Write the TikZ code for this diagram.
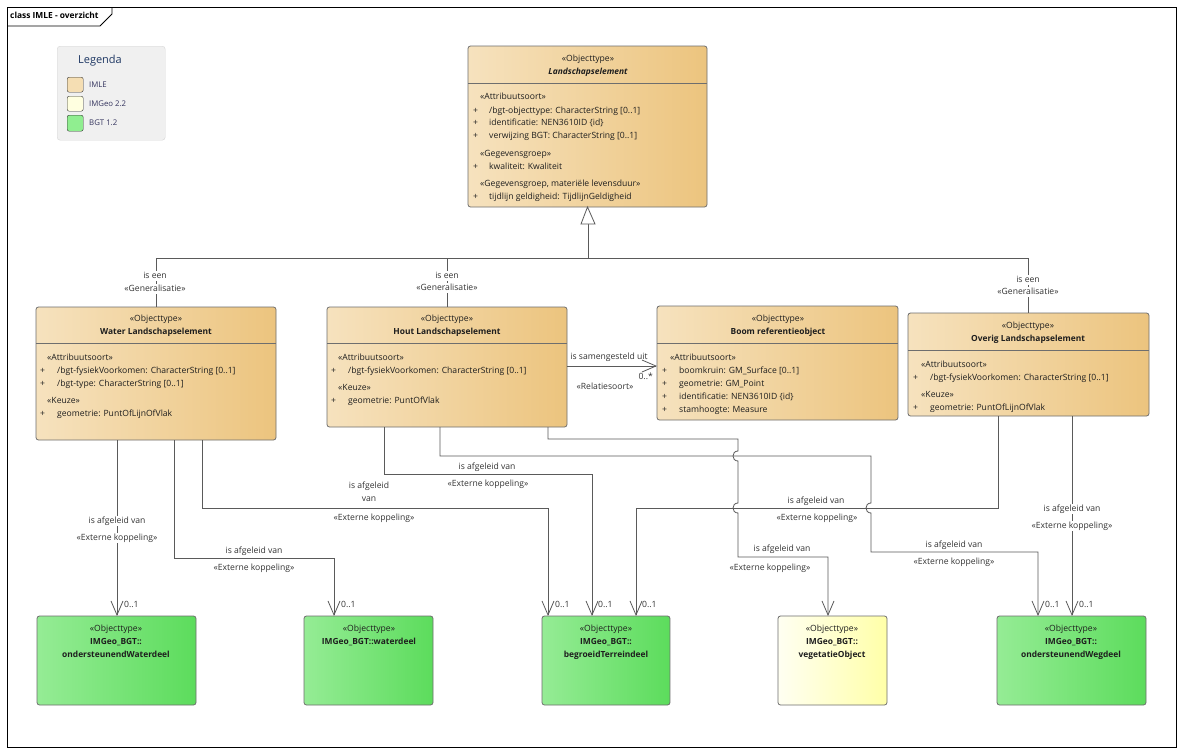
\documentclass[tikz,border=0pt]{standalone}
\usepackage{fontspec}
\setmainfont{Open Sans}
\usetikzlibrary{arrows.meta}
\definecolor{wheatL}{HTML}{F6E2BE}
\definecolor{wheatR}{HTML}{ECC47E}
\definecolor{greenL}{HTML}{95EC95}
\definecolor{greenR}{HTML}{5CDC5C}
\definecolor{yelL}{HTML}{FFFFF2}
\definecolor{yelR}{HTML}{FFFFA8}
\definecolor{boxline}{HTML}{6E6E6E}
\definecolor{connc}{HTML}{5A5A5A}
\definecolor{txt}{HTML}{1E1E1E}
\definecolor{lbl}{HTML}{333333}
\definecolor{legbg}{HTML}{F0F0F0}
\definecolor{legline}{HTML}{D6D6D6}
\definecolor{legtitle}{HTML}{1F3864}
\definecolor{legtxt}{HTML}{34345E}
\definecolor{swIMLE}{HTML}{F5DEB3}
\definecolor{swIMGeo}{HTML}{FFFFE0}
\definecolor{swBGT}{HTML}{90EE90}
\tikzset{
  clsbox/.style={draw=boxline, line width=0.8pt, rounded corners=2.5pt, inner sep=0pt, outer sep=0pt, anchor=north west},
  wheatbox/.style={clsbox, left color=wheatL, right color=wheatR},
  greenbox/.style={clsbox, left color=greenL, right color=greenR},
  yelbox/.style={clsbox, left color=yelL, right color=yelR},
  tx/.style={font=\fontsize{8.6}{10}\selectfont, inner sep=0pt, text height=6.2pt, text depth=1.8pt, text=txt},
  tw/.style={tx, anchor=west},
  tb/.style={tx, font=\fontsize{8.4}{10}\selectfont\bfseries},
  lb/.style={tx, text=lbl, fill=white, inner xsep=1pt, inner ysep=1pt},
  lbn/.style={tx, text=lbl},
  mult/.style={tx, text=lbl, anchor=west},
  conn/.style={draw=connc, line width=0.8pt},
  arr/.style={conn, -{Straight Barb[length=14pt, width=12pt, line width=0.8pt]}},
  sep/.style={draw=boxline, line width=0.8pt},
}
\begin{document}
\begin{tikzpicture}[x=1pt, y=-1pt]
\useasboundingbox (0,0) rectangle (1184,755);
\fill[white] (0,0) rectangle (1184,755);

% frame
\draw[line width=0.8pt, draw=black] (7,7) rectangle (1176,747);
\draw[line width=0.8pt, draw=black] (7,26) -- (100,26) -- (112,14) -- (112,7);
\node[tw, text=black, font=\fontsize{8.4}{10}\selectfont\bfseries] (ftitle) at (10,16.5) {class IMLE - overzicht};

% legend
\node[draw=legline, fill=legbg, rounded corners=3pt, minimum width=108pt, minimum height=94pt, anchor=north west, inner sep=0pt] (leg) at (57,46) {};
\node[tx, font=\fontsize{11}{13}\selectfont, text=legtitle] (legt) at (100,61) {Legenda};
\node[draw=black!80, fill=swIMLE, rounded corners=2pt, minimum width=16pt, minimum height=15pt, anchor=north west, inner sep=0pt] (sw1) at (67,77) {};
\node[draw=black!80, fill=swIMGeo, rounded corners=2pt, minimum width=16pt, minimum height=15pt, anchor=north west, inner sep=0pt] (sw2) at (67,96) {};
\node[draw=black!80, fill=swBGT, rounded corners=2pt, minimum width=16pt, minimum height=16pt, anchor=north west, inner sep=0pt] (sw3) at (67,115) {};
\node[tw, text=legtxt, font=\fontsize{7.8}{9}\selectfont] (lg1) at (89,85) {IMLE};
\node[tw, text=legtxt, font=\fontsize{7.8}{9}\selectfont] (lg2) at (89,104) {IMGeo 2.2};
\node[tw, text=legtxt, font=\fontsize{7.8}{9}\selectfont] (lg3) at (89,123) {BGT 1.2};

% Landschapselement
\node[wheatbox, minimum width=239pt, minimum height=161pt] (land) at (468,46) {};
\draw[sep] (468,83) -- (707,83);
\node[tx] (landst) at (588,59) {«Objecttype»};
\node[tb, font=\fontsize{8.4}{10}\selectfont\bfseries\itshape] (landn) at (588,72) {Landschapselement};
\node[tw] (la0) at (480,97) {«Attribuutsoort»};
\node[tw] (lp1) at (473,111) {+};
\node[tw] (la1) at (489,111) {/bgt-objecttype: CharacterString [0..1]};
\node[tw] (lp2) at (473,123) {+};
\node[tw] (la2) at (489,123) {identificatie: NEN3610ID \{id\}};
\node[tw] (lp3) at (473,136) {+};
\node[tw] (la3) at (489,136) {verwijzing BGT: CharacterString [0..1]};
\node[tw] (la4) at (480,154) {«Gegevensgroep»};
\node[tw] (lp5) at (473,167) {+};
\node[tw] (la5) at (489,167) {kwaliteit: Kwaliteit};
\node[tw] (la6) at (480,184) {«Gegevensgroep, materiële levensduur»};
\node[tw] (lp7) at (473,197) {+};
\node[tw] (la7) at (489,197) {tijdlijn geldigheid: TijdlijnGeldigheid};

% Water
\node[wheatbox, minimum width=240pt, minimum height=133pt] (water) at (36,307) {};
\draw[sep] (36,343) -- (276,343);
\node[tx] (wst) at (156,319) {«Objecttype»};
\node[tb] (wn) at (156,332) {Water Landschapselement};
\node[tw] (wa0) at (47,358) {«Attribuutsoort»};
\node[tw] (wp1) at (40,371) {+};
\node[tw] (wa1) at (57,371) {/bgt-fysiekVoorkomen: CharacterString [0..1]};
\node[tw] (wp2) at (40,384) {+};
\node[tw] (wa2) at (57,384) {/bgt-type: CharacterString [0..1]};
\node[tw] (wa3) at (47,401) {«Keuze»};
\node[tw] (wp4) at (40,414) {+};
\node[tw] (wa4) at (57,414) {geometrie: PuntOfLijnOfVlak};

% Hout
\node[wheatbox, minimum width=240pt, minimum height=120pt] (hout) at (327,307) {};
\draw[sep] (327,343) -- (567,343);
\node[tx] (hst) at (447,319) {«Objecttype»};
\node[tb] (hn) at (447,332) {Hout Landschapselement};
\node[tw] (ha0) at (338,358) {«Attribuutsoort»};
\node[tw] (hp1) at (331,371) {+};
\node[tw] (ha1) at (348,371) {/bgt-fysiekVoorkomen: CharacterString [0..1]};
\node[tw] (ha2) at (338,388) {«Keuze»};
\node[tw] (hp3) at (331,401) {+};
\node[tw] (ha3) at (348,401) {geometrie: PuntOfVlak};

% Boom
\node[wheatbox, minimum width=241pt, minimum height=114pt] (boom) at (657,306) {};
\draw[sep] (657,343) -- (898,343);
\node[tx] (bst) at (778,319) {«Objecttype»};
\node[tb] (bn) at (778,332) {Boom referentieobject};
\node[tw] (ba0) at (670,358) {«Attribuutsoort»};
\node[tw] (bp1) at (662,371) {+};
\node[tw] (ba1) at (679,371) {boomkruin: GM\_Surface [0..1]};
\node[tw] (bp2) at (662,384) {+};
\node[tw] (ba2) at (679,384) {geometrie: GM\_Point};
\node[tw] (bp3) at (662,397) {+};
\node[tw] (ba3) at (679,397) {identificatie: NEN3610ID \{id\}};
\node[tw] (bp4) at (662,410) {+};
\node[tw] (ba4) at (679,410) {stamhoogte: Measure};

% Overig
\node[wheatbox, minimum width=241pt, minimum height=103pt] (overig) at (908,313) {};
\draw[sep] (908,350) -- (1149,350);
\node[tx] (ost) at (1028,326) {«Objecttype»};
\node[tb] (on) at (1028,339) {Overig Landschapselement};
\node[tw] (oa0) at (921,365) {«Attribuutsoort»};
\node[tw] (op1) at (913,378) {+};
\node[tw] (oa1) at (930,378) {/bgt-fysiekVoorkomen: CharacterString [0..1]};
\node[tw] (oa2) at (921,395) {«Keuze»};
\node[tw] (op3) at (913,408) {+};
\node[tw] (oa3) at (930,408) {geometrie: PuntOfLijnOfVlak};

% bottom boxes
\node[greenbox, minimum width=159pt, minimum height=89pt] (ow) at (37,616) {};
\node[tx] (ows) at (116,629) {«Objecttype»};
\node[tb] (ow1) at (116,642) {IMGeo\_BGT::};
\node[tb] (ow2) at (116,655) {ondersteunendWaterdeel};

\node[greenbox, minimum width=129pt, minimum height=89pt] (wd) at (304,616) {};
\node[tx] (wds) at (369,629) {«Objecttype»};
\node[tb] (wd1) at (369,642) {IMGeo\_BGT::waterdeel};

\node[greenbox, minimum width=128pt, minimum height=89pt] (bt) at (542,616) {};
\node[tx] (bts) at (606,629) {«Objecttype»};
\node[tb] (bt1) at (606,642) {IMGeo\_BGT::};
\node[tb] (bt2) at (606,655) {begroeidTerreindeel};

\node[yelbox, minimum width=109pt, minimum height=89pt] (veg) at (778,616) {};
\node[tx] (vgs) at (832,629) {«Objecttype»};
\node[tb] (vg1) at (832,642) {IMGeo\_BGT::};
\node[tb] (vg2) at (832,655) {vegetatieObject};

\node[greenbox, minimum width=149pt, minimum height=89pt] (weg) at (997,616) {};
\node[tx] (wgs) at (1071,629) {«Objecttype»};
\node[tb] (wg1) at (1071,642) {IMGeo\_BGT::};
\node[tb] (wg2) at (1071,655) {ondersteunendWegdeel};

% generalization
\coordinate (gbase) at (588,224);
\coordinate (gj) at (588,258);
\draw[conn] (gbase) -- (gj);
\draw[conn] (water.north) -- (water.north |- gj) -- (overig.north |- gj) -- (overig.north);
\draw[conn] (hout.north) -- (hout.north |- gj);
\draw[conn, fill=white] (land.south) -- (581,224) -- (595,224) -- cycle;
\node[lb] (g1a) at (155,276) {is een};
\node[lb] (g1b) at (155,289) {«Generalisatie»};
\node[lb] (g2a) at (447,276) {is een};
\node[lb] (g2b) at (447,288) {«Generalisatie»};
\node[lb] (g3a) at (1028,280) {is een};
\node[lb] (g3b) at (1028,292) {«Generalisatie»};

% association
\draw[arr] (hout.east |- 0,366) -- (boom.west |- 0,366);
\node[lbn] (asl) at (609,357) {is samengesteld uit};
\node[lbn, anchor=east] (asm) at (653,377) {0..*};
\node[lbn] (asr) at (605,387) {«Relatiesoort»};

% C1 water -> ondersteunendWaterdeel
\draw[arr] (water.south -| 117,0) -- (ow.north -| 117,0);
\node[lb] (c1a) at (117,521) {is afgeleid van};
\node[lb] (c1b) at (117,538) {«Externe koppeling»};
\node[mult] (c1m) at (124,605) {0..1};

% C2 water -> waterdeel
\draw[arr] (water.south -| 174,0) -- (174,558) -- (334,558) -- (wd.north -| 334,0);
\node[lbn] (c2a) at (254,551) {is afgeleid van};
\node[lbn] (c2b) at (254,568) {«Externe koppeling»};
\node[mult] (c2m) at (341,605) {0..1};

% C3 water -> begroeidTerreindeel
\draw[arr] (water.south -| 202,0) -- (202,508) -- (548,508) -- (bt.north -| 548,0);
\node[lbn] (c3a) at (369,486) {is afgeleid};
\node[lbn] (c3b) at (369,499) {van};
\node[lbn] (c3c) at (374,518) {«Externe koppeling»};
\node[mult] (c3m) at (555,605) {0..1};

% C4 hout -> begroeidTerreindeel
\draw[arr] (hout.south -| 384,0) -- (384,474) -- (592,474) -- (bt.north -| 592,0);
\node[lbn] (c4a) at (487,467) {is afgeleid van};
\node[lbn] (c4b) at (488,484) {«Externe koppeling»};
\node[mult] (c4m) at (598,605) {0..1};

% C5 hout -> vegetatieObject
\draw[arr] (hout.south -| 548,0) -- (548,439) -- (738,439) -- (738,451)
  .. controls (731.3,451) and (731.3,461) .. (738,461) -- (738,503)
  .. controls (731.3,503) and (731.3,513) .. (738,513) -- (738,557) -- (828,557) -- (veg.north -| 828,0);
\node[lbn] (c5a) at (782,549) {is afgeleid van};
\node[lbn] (c5b) at (770,568) {«Externe koppeling»};

% C6 hout -> ondersteunendWegdeel
\draw[arr] (hout.south -| 440,0) -- (440,456) -- (871,456) -- (871,503)
  .. controls (864.3,503) and (864.3,513) .. (871,513) -- (871,552) -- (1038,552) -- (weg.north -| 1038,0);
\node[lbn] (c6a) at (954,545) {is afgeleid van};
\node[lbn] (c6b) at (954,562) {«Externe koppeling»};
\node[mult] (c6m) at (1045,605) {0..1};

% C7 overig -> begroeidTerreindeel
\draw[arr] (overig.south -| 998,0) -- (998,508) -- (636,508) -- (bt.north -| 636,0);
\node[lbn] (c7a) at (816,501) {is afgeleid van};
\node[lbn] (c7b) at (817,518) {«Externe koppeling»};
\node[mult] (c7m) at (642,605) {0..1};

% C8 overig -> ondersteunendWegdeel
\draw[arr] (overig.south -| 1072,0) -- (weg.north -| 1072,0);
\node[lb] (c8a) at (1072,509) {is afgeleid van};
\node[lb] (c8b) at (1072,526) {«Externe koppeling»};
\node[mult] (c8m) at (1079,605) {0..1};
\end{tikzpicture}
\end{document}
